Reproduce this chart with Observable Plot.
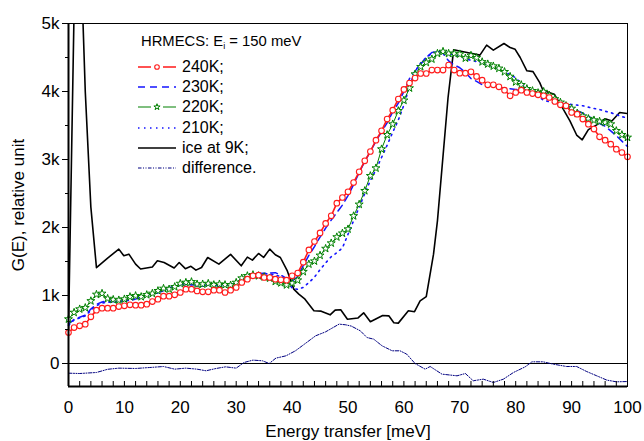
<!DOCTYPE html>
<html>
<head>
<meta charset="utf-8">
<script src="https://cdn.jsdelivr.net/npm/d3@7"></script>
<script src="https://cdn.jsdelivr.net/npm/@observablehq/plot@0.6"></script>
<style>
  html, body { margin: 0; padding: 0; background: white; }
  #wrap { position: relative; width: 644px; height: 441px; font-family: "Liberation Sans", Arial, sans-serif; }
  #legend { position: absolute; left: 0; top: 0; width: 644px; height: 441px; pointer-events: none; }
  .ltitle { position: absolute; left: 141px; top: 33px; font-size: 14.8px; white-space: nowrap; }
  .ltitle sub { font-size: 9px; vertical-align: -3px; }
  .lrow { position: absolute; left: 137px; height: 20px; display: flex; align-items: center; font-size: 16px; white-space: nowrap; }
  .lrow svg { margin-right: 5px; }
</style>
</head>
<body>
<div id="wrap"><div id="legend"></div></div>
<script>
// ---- data ----
const energy = d3.range(0, 101); // meV grid (1 meV steps)

const t240 = [
  456,529,554,579,686,785,814,814,814,838,
  848,863,858,858,873,911,946,990,990,1010,
  1044,1093,1093,1068,1054,1054,1078,1078,1044,1078,
  1118,1191,1240,1289,1299,1265,1265,1240,1230,1226,
  1290,1330,1490,1670,1794,1920,2060,2172,2358,2441,
  2525,2662,2819,2981,3118,3285,3422,3594,3726,3888,
  4030,4125,4197,4265,4265,4315,4315,4315,4388,4315,
  4270,4270,4290,4221,4167,4098,4098,4069,4020,3937,
  3985,4020,3985,3970,3951,3937,3912,3853,3804,3790,
  3691,3667,3594,3520,3447,3334,3285,3226,3152,3103,
  3040];

const t230 = [
  580,650,680,710,800,870,905,920,910,912,
  925,932,950,975,1010,1025,1040,1075,1110,1145,
  1160,1175,1165,1145,1145,1160,1155,1145,1155,1165,
  1175,1250,1300,1318,1324,1328,1332,1336,1300,1250,
  1210,1280,1440,1590,1720,1860,1990,2110,2220,2330,
  2470,2630,2810,2970,3120,3270,3410,3540,3700,3830,
  4000,4190,4300,4400,4500,4574,4590,4560,4450,4390,
  4350,4280,4190,4150,4100,4100,4090,4060,4050,4040,
  4030,4030,4010,4000,3970,3930,3900,3860,3820,3790,
  3760,3720,3680,3640,3580,3530,3490,3420,3350,3270,
  3190];

const t220 = [
  653,750,800,820,920,1015,1030,955,940,932,
  947,981,996,981,1010,1030,1069,1103,1093,1128,
  1176,1191,1201,1167,1167,1176,1157,1167,1157,1152,
  1191,1255,1289,1304,1289,1274,1255,1206,1185,1155,
  1181,1225,1350,1461,1505,1590,1690,1770,1860,1915,
  1976,2170,2340,2540,2760,2873,3153,3363,3520,3716,
  3870,4050,4255,4363,4427,4476,4559,4588,4559,4559,
  4550,4490,4530,4495,4435,4403,4373,4340,4290,4220,
  4140,4098,4040,4010,3980,3998,3945,3890,3840,3790,
  3750,3680,3637,3600,3579,3560,3545,3520,3422,3363,
  3324];

const t210 = [
  560,640,670,700,780,850,890,900,905,910,
  920,930,945,970,1000,1020,1040,1070,1100,1130,
  1150,1160,1155,1140,1140,1150,1145,1140,1150,1160,
  1170,1240,1290,1310,1315,1320,1315,1300,1280,1220,
  1110,1090,1120,1190,1270,1380,1480,1570,1630,1700,
  1900,2100,2300,2500,2690,2850,3030,3210,3400,3580,
  3800,4080,4300,4420,4500,4560,4590,4590,4560,4540,
  4520,4480,4460,4440,4420,4390,4360,4330,4290,4250,
  4200,4120,4060,4000,3930,3870,3850,3840,3830,3820,
  3810,3800,3790,3770,3750,3735,3710,3690,3660,3630,
  3610];

const iceE = [0,1,2,3,4,5,7,9,9.9,10.8,12,12.9,15,15.9,17.1,18.9,19.8,20.9,21.9,22.8,23.8,24.9,26.9,29,30.9,32,32.9,34,34.9,36,37,37.9,39.1,40.3,41.2,42.2,43.9,45.2,46.8,47.7,48.7,49.9,51.8,52.8,54,56.2,57.3,58.2,59,60.8,61.9,62.9,64,65.3,66,67.9,68.9,71.3,73.6,74.8,76,77.9,79,79.9,80.8,82,83.1,84.3,84.9,86.9,88.5,89.7,90.9,91.9,93,94.5,96,97.2,98.6,100];
const iceG = [500,5200,6500,4000,2300,1410,1550,1682,1584,1608,1462,1390,1420,1510,1485,1405,1485,1395,1430,1373,1412,1559,1462,1605,1437,1565,1520,1618,1559,1682,1599,1559,1370,1094,1020,955,775,770,716,785,790,650,670,745,615,705,701,600,594,775,762,922,985,1608,2098,3912,4613,4574,4535,4682,4608,4706,4647,4620,4500,4304,4292,4130,4015,3960,3741,3569,3360,3290,3440,3510,3600,3565,3691,3675];

const diffE = [0,2,5,7,9,12,14.5,17,19,21,23,24.6,26.4,28.1,30,31.4,33,34.7,35.9,37.1,38.9,40.6,41.8,44.2,46,48.4,49.6,50.6,52.2,53.4,54.6,56.1,57.9,59.3,60.5,62,63.8,64.7,66.8,69.5,71,72.4,74.2,76,77.8,79.6,81.7,82.9,84.9,86.7,89.1,90.9,92.7,94.5,96.3,98,100];
const diffG = [-142,-147,-132,-85,-68,-73,-59,-44,-83,-68,-83,-107,-73,-49,-68,15,50,40,0,79,113,187,260,407,466,579,569,550,481,382,358,260,187,187,138,0,-83,-44,-156,-181,-147,-254,-230,-279,-230,-132,-49,25,25,-9,-44,-44,-118,-181,-244,-269,-265];

const yTicks = [0, 1000, 2000, 3000, 4000, 5000];
const yMinor = [500, 1500, 2500, 3500, 4500];
const xTicks = [0, 10, 20, 30, 40, 50, 60, 70, 80, 90, 100];
const xMinor = d3.range(0, 101, 2);

const legendTitle = "HRMECS: E";
const seriesNames = ["240K;", "230K;", "220K;", "210K;", "ice at 9K;", "difference."];

// ---- build tables ----
const rows = (vals) => energy.map((e, i) => ({e, g: vals[i]}));
const ice = iceE.map((e, i) => ({e, g: iceG[i]}));
const diff = diffE.map((e, i) => ({e, g: diffG[i]}));

const Y_MIN = -338, Y_MAX = 5000;
const W = 644, H = 441, mT = 23, mB = 55, mL = 68, mR = 17;
const innerH = H - mT - mB;

const BLUE = "#1414ff", GREEN = "#008000", RED = "#ff1a1a", NAVY = "#000080";

const chart = Plot.plot({
  width: W, height: H,
  marginTop: mT, marginBottom: mB, marginLeft: mL, marginRight: mR,
  style: {fontFamily: "'Liberation Sans', Arial, sans-serif", fontSize: "17px", color: "black", background: "white"},
  x: {domain: [0, 100]},
  y: {domain: [Y_MIN, Y_MAX]},
  marks: [
    Plot.ruleY([0], {stroke: "black", strokeWidth: 1}),
    Plot.line(diff, {x: "e", y: "g", stroke: NAVY, strokeWidth: 1, strokeDasharray: "3.5,1.5,1,1.5,1,1.5"}),
    Plot.line(ice, {x: "e", y: "g", stroke: "black", strokeWidth: 1.6, clip: true}),
    Plot.line(rows(t210), {x: "e", y: "g", stroke: BLUE, strokeWidth: 1.6, strokeDasharray: "1.5,4.5"}),
    Plot.line(rows(t230), {x: "e", y: "g", stroke: BLUE, strokeWidth: 1.5, strokeDasharray: "7,5"}),
    Plot.line(rows(t220), {x: "e", y: "g", stroke: GREEN, strokeWidth: 1}),
    Plot.dot(rows(t220), {x: "e", y: "g", symbol: "star", r: 2.5, stroke: GREEN, fill: "white", strokeWidth: 1}),
    Plot.line(rows(t240), {x: "e", y: "g", stroke: RED, strokeWidth: 1.6}),
    Plot.dot(rows(t240), {x: "e", y: "g", symbol: "circle", r: 2.8, stroke: RED, fill: "white", strokeWidth: 1.1}),
    Plot.frame({stroke: "black", strokeWidth: 1}),
    Plot.ruleX([0], {stroke: "black", strokeWidth: 2}),
    Plot.ruleY([Y_MIN], {stroke: "black", strokeWidth: 2}),
    Plot.tickX(xMinor, {x: d => d, stroke: "black", strokeWidth: 1, insetTop: innerH - 5}),
    Plot.axisY(yTicks, {anchor: "left", tickSize: 6, tickPadding: 3, tickFormat: d => d === 0 ? "0" : (d / 1000) + "k",
      label: "G(E), relative unit", labelAnchor: "center", labelArrow: "none", labelOffset: 57}),
    Plot.axisY(yMinor, {anchor: "left", tickSize: 3, tickFormat: () => "", label: null}),
    Plot.axisX(xTicks, {anchor: "bottom", tickSize: 0, tickPadding: 14,
      label: "Energy transfer [meV]", labelAnchor: "center", labelArrow: "none", labelOffset: 50})
  ]
});
document.getElementById("wrap").prepend(chart);

// ---- legend (inside plot area) ----
const lg = document.getElementById("legend");
const t = document.createElement("div");
t.className = "ltitle";
t.innerHTML = legendTitle + "<sub>i</sub> = 150 meV";
lg.appendChild(t);

const samples = [
  {stroke: RED, width: 1.6, dash: null, marker: "circle"},
  {stroke: BLUE, width: 1.5, dash: "7,5", marker: null},
  {stroke: GREEN, width: 1.1, dash: null, marker: "star"},
  {stroke: BLUE, width: 1.6, dash: "1.5,4.5", marker: null},
  {stroke: "black", width: 1.6, dash: null, marker: null},
  {stroke: NAVY, width: 1, dash: "3.5,1.5,1,1.5,1,1.5", marker: null}
];
const rowTops = [57, 77, 97, 118, 138, 158];
seriesNames.forEach((name, i) => {
  const s = samples[i];
  const row = document.createElement("div");
  row.className = "lrow";
  row.style.top = rowTops[i] + "px";
  const ns = "http://www.w3.org/2000/svg";
  const svg = document.createElementNS(ns, "svg");
  svg.setAttribute("width", 40); svg.setAttribute("height", 20);
  const ln = document.createElementNS(ns, "line");
  ln.setAttribute("x1", 1); ln.setAttribute("x2", 39); ln.setAttribute("y1", 10); ln.setAttribute("y2", 10);
  ln.setAttribute("stroke", s.stroke); ln.setAttribute("stroke-width", s.width);
  if (s.dash) ln.setAttribute("stroke-dasharray", s.dash);
  if (s.marker) ln.setAttribute("stroke-dasharray", "13,12");
  svg.appendChild(ln);
  if (s.marker === "circle") {
    const c = document.createElementNS(ns, "circle");
    c.setAttribute("cx", 20); c.setAttribute("cy", 10); c.setAttribute("r", 2.3);
    c.setAttribute("fill", "white"); c.setAttribute("stroke", s.stroke); c.setAttribute("stroke-width", 1.1);
    svg.appendChild(c);
  } else if (s.marker === "star") {
    const p = document.createElementNS(ns, "path");
    p.setAttribute("d", d3.symbol(d3.symbolStar, 12)());
    p.setAttribute("transform", "translate(20,10)");
    p.setAttribute("fill", "white"); p.setAttribute("stroke", s.stroke); p.setAttribute("stroke-width", 1);
    svg.appendChild(p);
  }
  row.appendChild(svg);
  const tx = document.createElement("span");
  tx.textContent = name;
  row.appendChild(tx);
  lg.appendChild(row);
});
</script>
</body>
</html>
